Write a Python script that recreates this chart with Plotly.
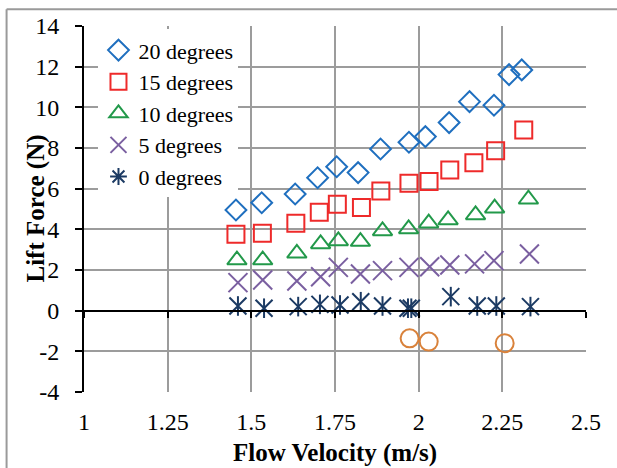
import plotly.graph_objects as go

# ---- data ----
v20 = [1.454, 1.531, 1.631, 1.698, 1.755, 1.819, 1.886, 1.971, 2.020, 2.091, 2.152, 2.225, 2.270, 2.308]
f20 = [4.95, 5.31, 5.74, 6.54, 7.08, 6.79, 7.95, 8.28, 8.56, 9.25, 10.28, 10.10, 11.61, 11.84]

v15 = [1.454, 1.533, 1.633, 1.703, 1.757, 1.829, 1.887, 1.971, 2.031, 2.093, 2.165, 2.230, 2.314]
f15 = [3.76, 3.81, 4.30, 4.84, 5.23, 5.07, 5.89, 6.27, 6.35, 6.92, 7.28, 7.87, 8.89]

v10 = [1.457, 1.534, 1.636, 1.707, 1.760, 1.826, 1.892, 1.970, 2.030, 2.088, 2.170, 2.227, 2.328]
f10 = [2.49, 2.49, 2.82, 3.28, 3.43, 3.40, 3.92, 4.02, 4.30, 4.46, 4.71, 5.04, 5.48]

v5 = [1.460, 1.534, 1.636, 1.707, 1.760, 1.826, 1.892, 1.971, 2.033, 2.093, 2.167, 2.225, 2.331]
f5 = [1.38, 1.51, 1.46, 1.67, 2.13, 1.80, 1.97, 2.13, 2.16, 2.25, 2.30, 2.46, 2.79]

v0 = [1.460, 1.538, 1.640, 1.705, 1.765, 1.827, 1.892, 1.968, 1.978, 2.096, 2.175, 2.232, 2.334]
f0 = [0.23, 0.12, 0.20, 0.31, 0.28, 0.44, 0.23, 0.12, 0.12, 0.69, 0.23, 0.23, 0.20]

v_neg = [1.973, 2.030, 2.257]
f_neg = [-1.36, -1.52, -1.60]

x_ticks = [1, 1.25, 1.5, 1.75, 2, 2.25, 2.5]
x_tick_labels = ["1", "1.25", "1.5", "1.75", "2", "2.25", "2.5"]
y_ticks = [-4, -2, 0, 2, 4, 6, 8, 10, 12, 14]
y_tick_labels = ["-4", "-2", "0", "2", "4", "6", "8", "10", "12", "14"]

series = [
    ("20 degrees", v20, f20, "diamond-open", "#1F6FBF", 16),
    ("15 degrees", v15, f15, "square-open", "#EE2A2A", 17),
    ("10 degrees", v10, f10, "triangle-up-open", "#22994A", 17),
    ("5 degrees", v5, f5, "x-thin-open", "#7A5FA0", 19),
]
STAR_COL = "#1B3A63"

FONT = "Liberation Serif"

fig = go.Figure()
for name, xs, ys, sym, col, sz in series:
    fig.add_trace(go.Scatter(
        x=xs, y=ys, mode="markers", name=name,
        marker=dict(symbol=sym, size=sz, color=col, line=dict(color=col, width=2)),
    ))

# 0 degrees: six-armed star = X + vertical bar (legend entry uses the asterisk symbol)
fig.add_trace(go.Scatter(
    x=[None], y=[None], mode="markers", name="0 degrees", legendgroup="g0",
    marker=dict(symbol="asterisk-open", size=14, color=STAR_COL, line=dict(color=STAR_COL, width=2)),
))
fig.add_trace(go.Scatter(
    x=v0, y=f0, mode="markers", name="0 degrees", legendgroup="g0", showlegend=False,
    marker=dict(symbol="x-thin-open", size=17, color=STAR_COL, line=dict(color=STAR_COL, width=2)),
))
fig.add_trace(go.Scatter(
    x=v0, y=f0, mode="markers", name="0 degrees", legendgroup="g0", showlegend=False,
    marker=dict(symbol="line-ns-open", size=14, color=STAR_COL, line=dict(color=STAR_COL, width=2)),
))

fig.add_trace(go.Scatter(
    x=v_neg, y=f_neg, mode="markers", name="", showlegend=False,
    marker=dict(symbol="circle-open", size=18, color="#D9823B", line=dict(color="#D9823B", width=2)),
))

L, R, T, B = 83.5, 31, 25.7, 76.3
W, H = 617, 468
pw, ph = W - L - R, H - T - B

fig.update_layout(
    width=W, height=H,
    margin=dict(l=L, r=R, t=T, b=B, pad=0),
    paper_bgcolor="white", plot_bgcolor="white",
    font=dict(family=FONT, size=24, color="black"),
    showlegend=True,
    legend=dict(
        x=(98 - L) / pw, y=(H - B - 29) / ph, xanchor="left", yanchor="top",
        bgcolor="white", borderwidth=0,
        font=dict(family=FONT, size=22, color="black"),
        tracegroupgap=0,
    ),
    xaxis=dict(
        range=[1, 2.5], tickvals=x_ticks, ticktext=x_tick_labels,
        showgrid=True, gridcolor="#9C9C9C", gridwidth=1.6,
        zeroline=False, showline=False, ticks="",
        ticklabelstandoff=13,
        tickfont=dict(family=FONT, size=24, color="black"),
    ),
    xaxis2=dict(
        range=[1, 2.5], tickvals=x_ticks, overlaying="x", anchor="free",
        position=4 / 18, side="bottom",
        showline=True, linecolor="black", linewidth=2,
        ticks="outside", ticklen=6, tickwidth=2, tickcolor="black",
        showticklabels=False, showgrid=False, zeroline=False,
    ),
    yaxis=dict(
        range=[-4, 14], tickvals=y_ticks, ticktext=y_tick_labels,
        showgrid=True, gridcolor="#9C9C9C", gridwidth=1.6,
        zeroline=False,
        showline=True, linecolor="black", linewidth=2,
        ticks="outside", ticklen=7, tickwidth=2, tickcolor="black",
        ticklabelstandoff=11,
        tickfont=dict(family=FONT, size=24, color="black"),
    ),
    annotations=[
        dict(text="<b>Flow Velocity (m/s)</b>", xref="paper", yref="paper",
             x=0.5, y=(H - B - 453) / ph, xanchor="center", yanchor="middle",
             showarrow=False, font=dict(family=FONT, size=25, color="black")),
        dict(text="<b>Lift Force (N)</b>", xref="paper", yref="paper",
             x=(35 - L) / pw, y=0.5, xanchor="center", yanchor="middle",
             textangle=-90, showarrow=False, font=dict(family=FONT, size=25, color="black")),
    ],
    shapes=[
        dict(type="line", xref="paper", yref="paper",
             x0=(6 - L) / pw, x1=(6 - L) / pw, y0=(H - B - 9) / ph, y1=(H - B - 480) / ph,
             line=dict(color="#9A9A9A", width=2)),
        dict(type="line", xref="paper", yref="paper",
             x0=(6 - L) / pw, x1=(630 - L) / pw, y0=(H - B - 9) / ph, y1=(H - B - 9) / ph,
             line=dict(color="#9A9A9A", width=2)),
    ],
)

# dummy trace on xaxis2 so the zero-line axis is rendered
fig.add_trace(go.Scatter(x=[None], y=[None], xaxis="x2", showlegend=False, hoverinfo="skip"))

fig.write_html("out.html")
